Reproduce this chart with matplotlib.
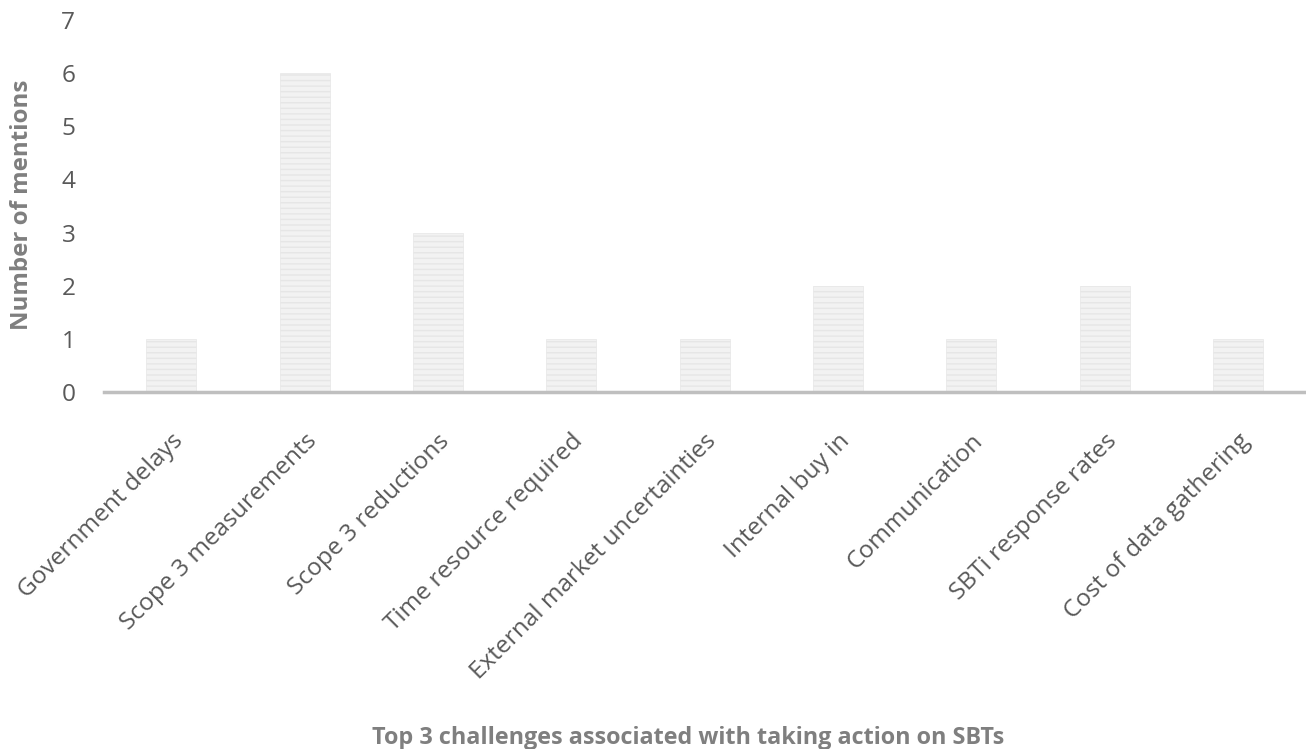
import matplotlib
matplotlib.use("Agg")
import matplotlib.pyplot as plt

categories = ["Government delays", "Scope 3 measurements", "Scope 3 reductions",
              "Time resource required", "External market uncertainties",
              "Internal buy in", "Communication", "SBTi response rates",
              "Cost of data gathering"]
mentions = [1, 6, 3, 1, 1, 2, 1, 2, 1]
y_ticks = [0, 1, 2, 3, 4, 5, 6, 7]

plt.rcParams['font.family'] = ['Open Sans', 'DejaVu Sans']
plt.rcParams['hatch.color'] = '#dedede'
plt.rcParams['hatch.linewidth'] = 1.0

fig = plt.figure(figsize=(13.06, 7.49), dpi=100)
ax = fig.add_axes([0.080, 0.477, 0.919, 0.496])

x = range(len(categories))
ax.bar(x, mentions, width=0.375, color='#f2f2f2', edgecolor='#e6e6e6',
       linewidth=0.5, hatch='---', zorder=2)

ax.set_xlim(-0.5, len(categories) - 0.5)
ax.set_ylim(0, 7)
ax.set_yticks(y_ticks)
ax.set_xticks(list(x))
ax.set_xticklabels(categories, rotation=45, ha='right', va='top',
                   rotation_mode='anchor', fontsize=17.6, color='#595959')
ax.tick_params(axis='x', length=0, pad=27)
ax.tick_params(axis='y', length=0, pad=21, labelsize=17.6, labelcolor='#595959')

for s in ['top', 'right', 'left']:
    ax.spines[s].set_visible(False)
ax.spines['bottom'].set_color('#bfbfbf')
ax.spines['bottom'].set_linewidth(2.5)
ax.spines['bottom'].set_zorder(3)

# y label placed by hand, as in the original
fig.text(22 / 1306, 1 - 205 / 749, "Number of mentions", rotation=90,
         ha='center', va='center', fontsize=17.4, fontweight='bold', color='#7f7f7f')
fig.text(0.527, 1 - 738 / 749, "Top 3 challenges associated with taking action on SBTs",
         ha='center', va='center', fontsize=16.8, fontweight='bold', color='#7f7f7f')

fig.savefig("out.png", dpi=100)
